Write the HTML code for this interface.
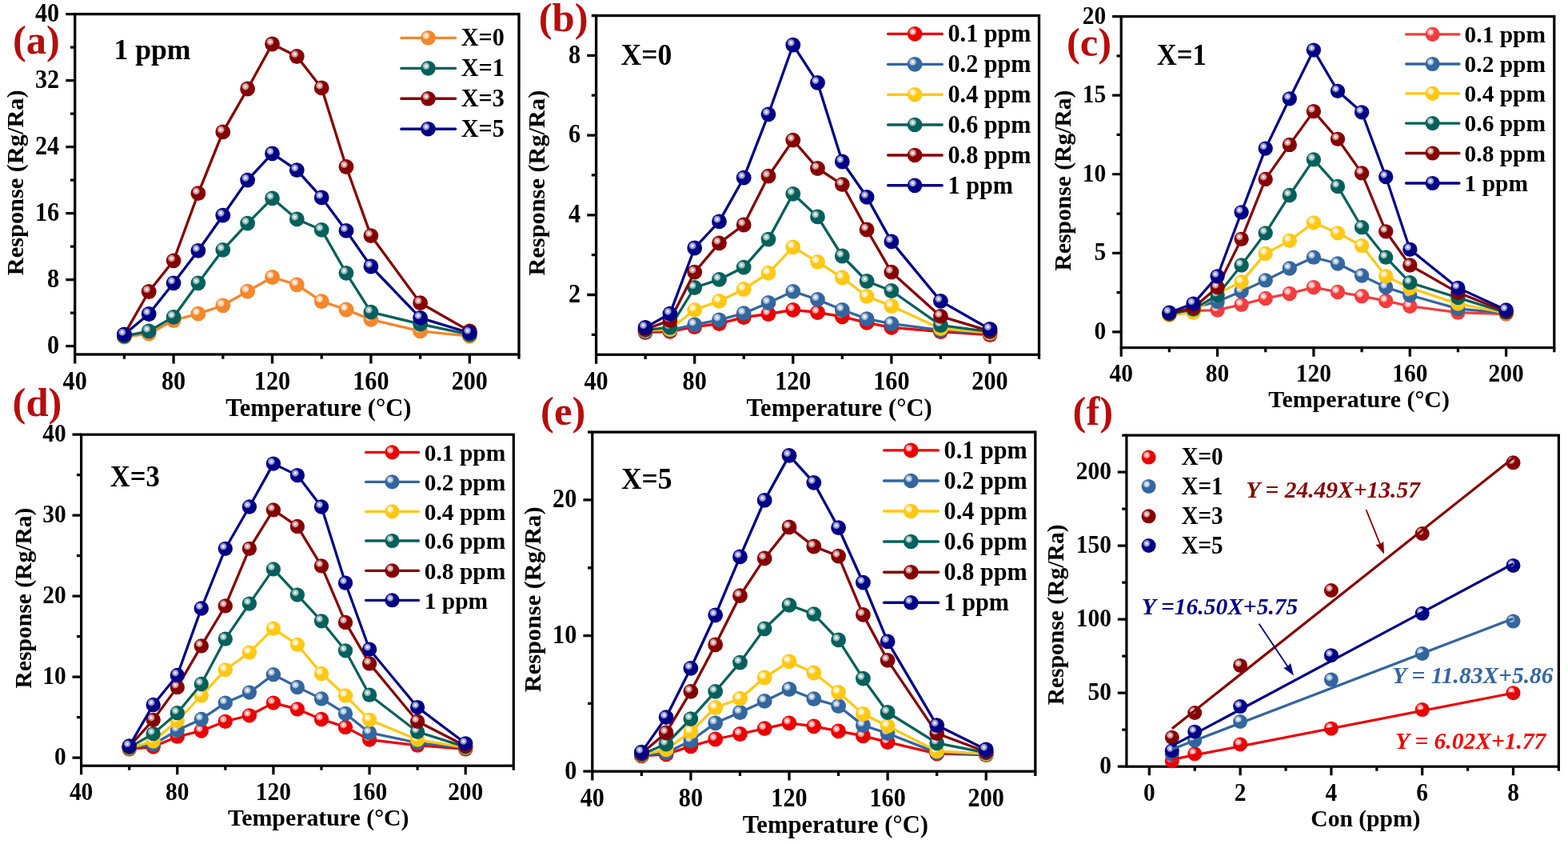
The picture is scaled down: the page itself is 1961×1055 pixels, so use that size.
<!DOCTYPE html>
<html><head><meta charset="utf-8"><title>Gas sensing response figure</title>
<style>html,body{margin:0;padding:0;background:#fff;overflow:hidden}svg{display:block}text{font-family:'Liberation Serif','Times New Roman',serif;font-weight:bold}</style>
</head><body>
<svg width="1961" height="1055" viewBox="0 0 1961 1055">
<defs><radialGradient id="gF5862B" cx="0.36" cy="0.35" r="0.255"><stop offset="0" stop-color="#fff"/><stop offset="0.18" stop-color="#fef9f4"/><stop offset="0.42" stop-color="#fcdbbf"/><stop offset="0.74" stop-color="#fbcaa2"/><stop offset="0.9" stop-color="#f8aa6b"/><stop offset="1" stop-color="#F5862B"/></radialGradient><radialGradient id="g04605C" cx="0.36" cy="0.35" r="0.255"><stop offset="0" stop-color="#fff"/><stop offset="0.18" stop-color="#f2f7f7"/><stop offset="0.42" stop-color="#b4cfce"/><stop offset="0.74" stop-color="#91b9b7"/><stop offset="0.9" stop-color="#4f908d"/><stop offset="1" stop-color="#04605C"/></radialGradient><radialGradient id="g860000" cx="0.36" cy="0.35" r="0.255"><stop offset="0" stop-color="#fff"/><stop offset="0.18" stop-color="#f9f2f2"/><stop offset="0.42" stop-color="#dbb2b2"/><stop offset="0.74" stop-color="#ca8f8f"/><stop offset="0.9" stop-color="#aa4c4c"/><stop offset="1" stop-color="#860000"/></radialGradient><radialGradient id="g000087" cx="0.36" cy="0.35" r="0.255"><stop offset="0" stop-color="#fff"/><stop offset="0.18" stop-color="#f2f2f9"/><stop offset="0.42" stop-color="#b2b2db"/><stop offset="0.74" stop-color="#8f8fca"/><stop offset="0.9" stop-color="#4c4cab"/><stop offset="1" stop-color="#000087"/></radialGradient><radialGradient id="gEA0000" cx="0.36" cy="0.35" r="0.255"><stop offset="0" stop-color="#fff"/><stop offset="0.18" stop-color="#fef2f2"/><stop offset="0.42" stop-color="#f9b2b2"/><stop offset="0.74" stop-color="#f68f8f"/><stop offset="0.9" stop-color="#f04c4c"/><stop offset="1" stop-color="#EA0000"/></radialGradient><radialGradient id="g33669F" cx="0.36" cy="0.35" r="0.255"><stop offset="0" stop-color="#fff"/><stop offset="0.18" stop-color="#f5f7fa"/><stop offset="0.42" stop-color="#c2d1e2"/><stop offset="0.74" stop-color="#a5bcd5"/><stop offset="0.9" stop-color="#7094bc"/><stop offset="1" stop-color="#33669F"/></radialGradient><radialGradient id="gFFC815" cx="0.36" cy="0.35" r="0.255"><stop offset="0" stop-color="#fff"/><stop offset="0.18" stop-color="#fffcf3"/><stop offset="0.42" stop-color="#ffeeb9"/><stop offset="0.74" stop-color="#ffe798"/><stop offset="0.9" stop-color="#ffd85b"/><stop offset="1" stop-color="#FFC815"/></radialGradient><radialGradient id="gF43C3C" cx="0.36" cy="0.35" r="0.255"><stop offset="0" stop-color="#fff"/><stop offset="0.18" stop-color="#fef5f5"/><stop offset="0.42" stop-color="#fcc4c4"/><stop offset="0.74" stop-color="#faa9a9"/><stop offset="0.9" stop-color="#f77676"/><stop offset="1" stop-color="#F43C3C"/></radialGradient></defs>
<rect width="1961" height="1055" fill="#fff"/>
<rect x="93.70" y="17.60" width="555.30" height="425.40" fill="none" stroke="#000" stroke-width="3.30"/>
<path d="M93.70 443.00V454.40M217.10 443.00V454.40M340.50 443.00V454.40M463.90 443.00V454.40M587.30 443.00V454.40M155.40 443.00V448.80M278.80 443.00V448.80M402.20 443.00V448.80M525.60 443.00V448.80M649.00 443.00V448.80M93.70 432.62H82.30M93.70 349.62H82.30M93.70 266.61H82.30M93.70 183.61H82.30M93.70 100.60H82.30M93.70 17.60H82.30M93.70 391.12H87.90M93.70 308.12H87.90M93.70 225.11H87.90M93.70 142.11H87.90M93.70 59.10H87.90" stroke="#000" stroke-width="3.30" fill="none"/>
<text transform="translate(93.70,486.50) scale(1,1.090)" font-size="30.20" text-anchor="middle">40</text>
<text transform="translate(217.10,486.50) scale(1,1.090)" font-size="30.20" text-anchor="middle">80</text>
<text transform="translate(340.50,486.50) scale(1,1.090)" font-size="30.20" text-anchor="middle">120</text>
<text transform="translate(463.90,486.50) scale(1,1.090)" font-size="30.20" text-anchor="middle">160</text>
<text transform="translate(587.30,486.50) scale(1,1.090)" font-size="30.20" text-anchor="middle">200</text>
<text transform="translate(74.20,441.97) scale(1,1.090)" font-size="30.20" text-anchor="end">0</text>
<text transform="translate(74.20,358.97) scale(1,1.090)" font-size="30.20" text-anchor="end">8</text>
<text transform="translate(74.20,275.96) scale(1,1.090)" font-size="30.20" text-anchor="end">16</text>
<text transform="translate(74.20,192.96) scale(1,1.090)" font-size="30.20" text-anchor="end">24</text>
<text transform="translate(74.20,109.95) scale(1,1.090)" font-size="30.20" text-anchor="end">32</text>
<text transform="translate(74.20,26.95) scale(1,1.090)" font-size="30.20" text-anchor="end">40</text>
<polyline points="155.4,421.2 186.2,417.1 217.1,400.5 247.9,392.2 278.8,381.8 309.6,364.1 340.5,346.5 371.3,355.8 402.2,376.6 433.0,387.0 463.9,399.4 525.6,413.9 587.3,420.2" fill="none" stroke="#F5862B" stroke-width="3.30" stroke-linejoin="round"/>
<circle cx="155.4" cy="421.2" r="9.40" fill="url(#gF5862B)"/>
<circle cx="186.2" cy="417.1" r="9.40" fill="url(#gF5862B)"/>
<circle cx="217.1" cy="400.5" r="9.40" fill="url(#gF5862B)"/>
<circle cx="247.9" cy="392.2" r="9.40" fill="url(#gF5862B)"/>
<circle cx="278.8" cy="381.8" r="9.40" fill="url(#gF5862B)"/>
<circle cx="309.6" cy="364.1" r="9.40" fill="url(#gF5862B)"/>
<circle cx="340.5" cy="346.5" r="9.40" fill="url(#gF5862B)"/>
<circle cx="371.3" cy="355.8" r="9.40" fill="url(#gF5862B)"/>
<circle cx="402.2" cy="376.6" r="9.40" fill="url(#gF5862B)"/>
<circle cx="433.0" cy="387.0" r="9.40" fill="url(#gF5862B)"/>
<circle cx="463.9" cy="399.4" r="9.40" fill="url(#gF5862B)"/>
<circle cx="525.6" cy="413.9" r="9.40" fill="url(#gF5862B)"/>
<circle cx="587.3" cy="420.2" r="9.40" fill="url(#gF5862B)"/>
<polyline points="155.4,420.2 186.2,413.9 217.1,396.3 247.9,353.8 278.8,312.3 309.6,279.1 340.5,247.9 371.3,273.9 402.2,287.4 433.0,341.3 463.9,390.1 525.6,405.1 587.3,418.1" fill="none" stroke="#04605C" stroke-width="3.30" stroke-linejoin="round"/>
<circle cx="155.4" cy="420.2" r="9.40" fill="url(#g04605C)"/>
<circle cx="186.2" cy="413.9" r="9.40" fill="url(#g04605C)"/>
<circle cx="217.1" cy="396.3" r="9.40" fill="url(#g04605C)"/>
<circle cx="247.9" cy="353.8" r="9.40" fill="url(#g04605C)"/>
<circle cx="278.8" cy="312.3" r="9.40" fill="url(#g04605C)"/>
<circle cx="309.6" cy="279.1" r="9.40" fill="url(#g04605C)"/>
<circle cx="340.5" cy="247.9" r="9.40" fill="url(#g04605C)"/>
<circle cx="371.3" cy="273.9" r="9.40" fill="url(#g04605C)"/>
<circle cx="402.2" cy="287.4" r="9.40" fill="url(#g04605C)"/>
<circle cx="433.0" cy="341.3" r="9.40" fill="url(#g04605C)"/>
<circle cx="463.9" cy="390.1" r="9.40" fill="url(#g04605C)"/>
<circle cx="525.6" cy="405.1" r="9.40" fill="url(#g04605C)"/>
<circle cx="587.3" cy="418.1" r="9.40" fill="url(#g04605C)"/>
<polyline points="155.4,418.1 186.2,364.5 217.1,325.8 247.9,241.7 278.8,164.9 309.6,111.0 340.5,55.0 371.3,70.5 402.2,109.9 433.0,208.5 463.9,294.6 525.6,378.7 587.3,413.9" fill="none" stroke="#860000" stroke-width="3.30" stroke-linejoin="round"/>
<circle cx="155.4" cy="418.1" r="9.40" fill="url(#g860000)"/>
<circle cx="186.2" cy="364.5" r="9.40" fill="url(#g860000)"/>
<circle cx="217.1" cy="325.8" r="9.40" fill="url(#g860000)"/>
<circle cx="247.9" cy="241.7" r="9.40" fill="url(#g860000)"/>
<circle cx="278.8" cy="164.9" r="9.40" fill="url(#g860000)"/>
<circle cx="309.6" cy="111.0" r="9.40" fill="url(#g860000)"/>
<circle cx="340.5" cy="55.0" r="9.40" fill="url(#g860000)"/>
<circle cx="371.3" cy="70.5" r="9.40" fill="url(#g860000)"/>
<circle cx="402.2" cy="109.9" r="9.40" fill="url(#g860000)"/>
<circle cx="433.0" cy="208.5" r="9.40" fill="url(#g860000)"/>
<circle cx="463.9" cy="294.6" r="9.40" fill="url(#g860000)"/>
<circle cx="525.6" cy="378.7" r="9.40" fill="url(#g860000)"/>
<circle cx="587.3" cy="413.9" r="9.40" fill="url(#g860000)"/>
<polyline points="155.4,418.1 186.2,392.5 217.1,353.8 247.9,313.3 278.8,269.2 309.6,225.1 340.5,191.9 371.3,212.7 402.2,246.9 433.0,288.4 463.9,333.0 525.6,397.3 587.3,416.0" fill="none" stroke="#000087" stroke-width="3.30" stroke-linejoin="round"/>
<circle cx="155.4" cy="418.1" r="9.40" fill="url(#g000087)"/>
<circle cx="186.2" cy="392.5" r="9.40" fill="url(#g000087)"/>
<circle cx="217.1" cy="353.8" r="9.40" fill="url(#g000087)"/>
<circle cx="247.9" cy="313.3" r="9.40" fill="url(#g000087)"/>
<circle cx="278.8" cy="269.2" r="9.40" fill="url(#g000087)"/>
<circle cx="309.6" cy="225.1" r="9.40" fill="url(#g000087)"/>
<circle cx="340.5" cy="191.9" r="9.40" fill="url(#g000087)"/>
<circle cx="371.3" cy="212.7" r="9.40" fill="url(#g000087)"/>
<circle cx="402.2" cy="246.9" r="9.40" fill="url(#g000087)"/>
<circle cx="433.0" cy="288.4" r="9.40" fill="url(#g000087)"/>
<circle cx="463.9" cy="333.0" r="9.40" fill="url(#g000087)"/>
<circle cx="525.6" cy="397.3" r="9.40" fill="url(#g000087)"/>
<circle cx="587.3" cy="416.0" r="9.40" fill="url(#g000087)"/>
<text transform="translate(142.40,73.80) scale(1,1.010)" font-size="35.70" text-anchor="start">1 ppm</text>
<line x1="501.9" y1="47.4" x2="569.5" y2="47.4" stroke="#F5862B" stroke-width="3.40" stroke-linecap="round"/>
<circle cx="535.5" cy="47.4" r="9.30" fill="url(#gF5862B)"/>
<text transform="translate(576.70,57.40) scale(1,1.040)" font-size="30.20" text-anchor="start">X=0</text>
<line x1="501.9" y1="85.4" x2="569.5" y2="85.4" stroke="#04605C" stroke-width="3.40" stroke-linecap="round"/>
<circle cx="535.5" cy="85.4" r="9.30" fill="url(#g04605C)"/>
<text transform="translate(576.70,95.40) scale(1,1.040)" font-size="30.20" text-anchor="start">X=1</text>
<line x1="501.9" y1="123.3" x2="569.5" y2="123.3" stroke="#860000" stroke-width="3.40" stroke-linecap="round"/>
<circle cx="535.5" cy="123.3" r="9.30" fill="url(#g860000)"/>
<text transform="translate(576.70,133.30) scale(1,1.040)" font-size="30.20" text-anchor="start">X=3</text>
<line x1="501.9" y1="161.2" x2="569.5" y2="161.2" stroke="#000087" stroke-width="3.40" stroke-linecap="round"/>
<circle cx="535.5" cy="161.2" r="9.30" fill="url(#g000087)"/>
<text transform="translate(576.70,171.20) scale(1,1.040)" font-size="30.20" text-anchor="start">X=5</text>
<text transform="translate(15.90,66.70) scale(1,0.982)" font-size="50.60" text-anchor="start" fill="#B80C0C">(a)</text>
<text transform="translate(398.30,519.70)" font-size="30.60" text-anchor="middle">Temperature (°C)</text>
<text transform="translate(28.70,228.25) rotate(-90)" font-size="30.35" text-anchor="middle">Response (Rg/Ra)</text>
<rect x="745.60" y="19.50" width="553.90" height="423.80" fill="none" stroke="#000" stroke-width="3.30"/>
<path d="M745.60 443.30V454.70M868.69 443.30V454.70M991.78 443.30V454.70M1114.87 443.30V454.70M1237.96 443.30V454.70M807.14 443.30V449.10M930.23 443.30V449.10M1053.32 443.30V449.10M1176.41 443.30V449.10M1299.50 443.30V449.10M745.60 368.51H734.20M745.60 268.79H734.20M745.60 169.08H734.20M745.60 69.36H734.20M745.60 418.37H739.80M745.60 318.65H739.80M745.60 218.94H739.80M745.60 119.22H739.80M745.60 19.50H739.80" stroke="#000" stroke-width="3.30" fill="none"/>
<text transform="translate(745.60,486.80) scale(1,1.090)" font-size="30.20" text-anchor="middle">40</text>
<text transform="translate(868.69,486.80) scale(1,1.090)" font-size="30.20" text-anchor="middle">80</text>
<text transform="translate(991.78,486.80) scale(1,1.090)" font-size="30.20" text-anchor="middle">120</text>
<text transform="translate(1114.87,486.80) scale(1,1.090)" font-size="30.20" text-anchor="middle">160</text>
<text transform="translate(1237.96,486.80) scale(1,1.090)" font-size="30.20" text-anchor="middle">200</text>
<text transform="translate(726.10,377.86) scale(1,1.090)" font-size="30.20" text-anchor="end">2</text>
<text transform="translate(726.10,278.14) scale(1,1.090)" font-size="30.20" text-anchor="end">4</text>
<text transform="translate(726.10,178.43) scale(1,1.090)" font-size="30.20" text-anchor="end">6</text>
<text transform="translate(726.10,78.71) scale(1,1.090)" font-size="30.20" text-anchor="end">8</text>
<polyline points="807.1,415.5 837.9,414.3 868.7,408.6 899.5,404.6 930.2,396.6 961.0,392.5 991.8,387.3 1022.5,390.5 1053.3,395.8 1084.1,403.4 1114.9,409.4 1176.4,414.7 1238.0,418.7" fill="none" stroke="#EA0000" stroke-width="3.30" stroke-linejoin="round"/>
<circle cx="807.1" cy="415.5" r="9.40" fill="url(#gEA0000)"/>
<circle cx="837.9" cy="414.3" r="9.40" fill="url(#gEA0000)"/>
<circle cx="868.7" cy="408.6" r="9.40" fill="url(#gEA0000)"/>
<circle cx="899.5" cy="404.6" r="9.40" fill="url(#gEA0000)"/>
<circle cx="930.2" cy="396.6" r="9.40" fill="url(#gEA0000)"/>
<circle cx="961.0" cy="392.5" r="9.40" fill="url(#gEA0000)"/>
<circle cx="991.8" cy="387.3" r="9.40" fill="url(#gEA0000)"/>
<circle cx="1022.5" cy="390.5" r="9.40" fill="url(#gEA0000)"/>
<circle cx="1053.3" cy="395.8" r="9.40" fill="url(#gEA0000)"/>
<circle cx="1084.1" cy="403.4" r="9.40" fill="url(#gEA0000)"/>
<circle cx="1114.9" cy="409.4" r="9.40" fill="url(#gEA0000)"/>
<circle cx="1176.4" cy="414.7" r="9.40" fill="url(#gEA0000)"/>
<circle cx="1238.0" cy="418.7" r="9.40" fill="url(#gEA0000)"/>
<polyline points="807.1,414.3 837.9,412.7 868.7,405.8 899.5,399.8 930.2,391.7 961.0,378.4 991.8,364.3 1022.5,374.4 1053.3,387.3 1084.1,398.6 1114.9,404.6 1176.4,412.7 1238.0,416.7" fill="none" stroke="#33669F" stroke-width="3.30" stroke-linejoin="round"/>
<circle cx="807.1" cy="414.3" r="9.40" fill="url(#g33669F)"/>
<circle cx="837.9" cy="412.7" r="9.40" fill="url(#g33669F)"/>
<circle cx="868.7" cy="405.8" r="9.40" fill="url(#g33669F)"/>
<circle cx="899.5" cy="399.8" r="9.40" fill="url(#g33669F)"/>
<circle cx="930.2" cy="391.7" r="9.40" fill="url(#g33669F)"/>
<circle cx="961.0" cy="378.4" r="9.40" fill="url(#g33669F)"/>
<circle cx="991.8" cy="364.3" r="9.40" fill="url(#g33669F)"/>
<circle cx="1022.5" cy="374.4" r="9.40" fill="url(#g33669F)"/>
<circle cx="1053.3" cy="387.3" r="9.40" fill="url(#g33669F)"/>
<circle cx="1084.1" cy="398.6" r="9.40" fill="url(#g33669F)"/>
<circle cx="1114.9" cy="404.6" r="9.40" fill="url(#g33669F)"/>
<circle cx="1176.4" cy="412.7" r="9.40" fill="url(#g33669F)"/>
<circle cx="1238.0" cy="416.7" r="9.40" fill="url(#g33669F)"/>
<polyline points="807.1,413.1 837.9,411.5 868.7,387.3 899.5,376.4 930.2,361.5 961.0,341.4 991.8,308.8 1022.5,327.3 1053.3,347.0 1084.1,370.4 1114.9,382.5 1176.4,410.7 1238.0,415.9" fill="none" stroke="#FFC815" stroke-width="3.30" stroke-linejoin="round"/>
<circle cx="807.1" cy="413.1" r="9.40" fill="url(#gFFC815)"/>
<circle cx="837.9" cy="411.5" r="9.40" fill="url(#gFFC815)"/>
<circle cx="868.7" cy="387.3" r="9.40" fill="url(#gFFC815)"/>
<circle cx="899.5" cy="376.4" r="9.40" fill="url(#gFFC815)"/>
<circle cx="930.2" cy="361.5" r="9.40" fill="url(#gFFC815)"/>
<circle cx="961.0" cy="341.4" r="9.40" fill="url(#gFFC815)"/>
<circle cx="991.8" cy="308.8" r="9.40" fill="url(#gFFC815)"/>
<circle cx="1022.5" cy="327.3" r="9.40" fill="url(#gFFC815)"/>
<circle cx="1053.3" cy="347.0" r="9.40" fill="url(#gFFC815)"/>
<circle cx="1084.1" cy="370.4" r="9.40" fill="url(#gFFC815)"/>
<circle cx="1114.9" cy="382.5" r="9.40" fill="url(#gFFC815)"/>
<circle cx="1176.4" cy="410.7" r="9.40" fill="url(#gFFC815)"/>
<circle cx="1238.0" cy="415.9" r="9.40" fill="url(#gFFC815)"/>
<polyline points="807.1,412.3 837.9,409.4 868.7,359.5 899.5,349.4 930.2,334.1 961.0,299.1 991.8,242.3 1022.5,270.9 1053.3,320.0 1084.1,351.5 1114.9,363.5 1176.4,406.6 1238.0,414.7" fill="none" stroke="#04605C" stroke-width="3.30" stroke-linejoin="round"/>
<circle cx="807.1" cy="412.3" r="9.40" fill="url(#g04605C)"/>
<circle cx="837.9" cy="409.4" r="9.40" fill="url(#g04605C)"/>
<circle cx="868.7" cy="359.5" r="9.40" fill="url(#g04605C)"/>
<circle cx="899.5" cy="349.4" r="9.40" fill="url(#g04605C)"/>
<circle cx="930.2" cy="334.1" r="9.40" fill="url(#g04605C)"/>
<circle cx="961.0" cy="299.1" r="9.40" fill="url(#g04605C)"/>
<circle cx="991.8" cy="242.3" r="9.40" fill="url(#g04605C)"/>
<circle cx="1022.5" cy="270.9" r="9.40" fill="url(#g04605C)"/>
<circle cx="1053.3" cy="320.0" r="9.40" fill="url(#g04605C)"/>
<circle cx="1084.1" cy="351.5" r="9.40" fill="url(#g04605C)"/>
<circle cx="1114.9" cy="363.5" r="9.40" fill="url(#g04605C)"/>
<circle cx="1176.4" cy="406.6" r="9.40" fill="url(#g04605C)"/>
<circle cx="1238.0" cy="414.7" r="9.40" fill="url(#g04605C)"/>
<polyline points="807.1,411.5 837.9,400.6 868.7,340.2 899.5,303.9 930.2,281.0 961.0,220.2 991.8,175.1 1022.5,210.5 1053.3,230.6 1084.1,287.0 1114.9,340.2 1176.4,395.4 1238.0,413.9" fill="none" stroke="#860000" stroke-width="3.30" stroke-linejoin="round"/>
<circle cx="807.1" cy="411.5" r="9.40" fill="url(#g860000)"/>
<circle cx="837.9" cy="400.6" r="9.40" fill="url(#g860000)"/>
<circle cx="868.7" cy="340.2" r="9.40" fill="url(#g860000)"/>
<circle cx="899.5" cy="303.9" r="9.40" fill="url(#g860000)"/>
<circle cx="930.2" cy="281.0" r="9.40" fill="url(#g860000)"/>
<circle cx="961.0" cy="220.2" r="9.40" fill="url(#g860000)"/>
<circle cx="991.8" cy="175.1" r="9.40" fill="url(#g860000)"/>
<circle cx="1022.5" cy="210.5" r="9.40" fill="url(#g860000)"/>
<circle cx="1053.3" cy="230.6" r="9.40" fill="url(#g860000)"/>
<circle cx="1084.1" cy="287.0" r="9.40" fill="url(#g860000)"/>
<circle cx="1114.9" cy="340.2" r="9.40" fill="url(#g860000)"/>
<circle cx="1176.4" cy="395.4" r="9.40" fill="url(#g860000)"/>
<circle cx="1238.0" cy="413.9" r="9.40" fill="url(#g860000)"/>
<polyline points="807.1,409.4 837.9,392.1 868.7,310.0 899.5,276.9 930.2,222.2 961.0,142.8 991.8,56.2 1022.5,103.4 1053.3,202.0 1084.1,246.3 1114.9,301.9 1176.4,376.4 1238.0,411.5" fill="none" stroke="#000087" stroke-width="3.30" stroke-linejoin="round"/>
<circle cx="807.1" cy="409.4" r="9.40" fill="url(#g000087)"/>
<circle cx="837.9" cy="392.1" r="9.40" fill="url(#g000087)"/>
<circle cx="868.7" cy="310.0" r="9.40" fill="url(#g000087)"/>
<circle cx="899.5" cy="276.9" r="9.40" fill="url(#g000087)"/>
<circle cx="930.2" cy="222.2" r="9.40" fill="url(#g000087)"/>
<circle cx="961.0" cy="142.8" r="9.40" fill="url(#g000087)"/>
<circle cx="991.8" cy="56.2" r="9.40" fill="url(#g000087)"/>
<circle cx="1022.5" cy="103.4" r="9.40" fill="url(#g000087)"/>
<circle cx="1053.3" cy="202.0" r="9.40" fill="url(#g000087)"/>
<circle cx="1084.1" cy="246.3" r="9.40" fill="url(#g000087)"/>
<circle cx="1114.9" cy="301.9" r="9.40" fill="url(#g000087)"/>
<circle cx="1176.4" cy="376.4" r="9.40" fill="url(#g000087)"/>
<circle cx="1238.0" cy="411.5" r="9.40" fill="url(#g000087)"/>
<line x1="1110.6" y1="42.4" x2="1178.2" y2="42.4" stroke="#EA0000" stroke-width="3.40" stroke-linecap="round"/>
<circle cx="1144.1" cy="42.4" r="9.30" fill="url(#gEA0000)"/>
<text transform="translate(1185.50,52.40) scale(1,1.040)" font-size="30.20" text-anchor="start">0.1 ppm</text>
<line x1="1110.6" y1="80.4" x2="1178.2" y2="80.4" stroke="#33669F" stroke-width="3.40" stroke-linecap="round"/>
<circle cx="1144.1" cy="80.4" r="9.30" fill="url(#g33669F)"/>
<text transform="translate(1185.50,90.40) scale(1,1.040)" font-size="30.20" text-anchor="start">0.2 ppm</text>
<line x1="1110.6" y1="118.2" x2="1178.2" y2="118.2" stroke="#FFC815" stroke-width="3.40" stroke-linecap="round"/>
<circle cx="1144.1" cy="118.2" r="9.30" fill="url(#gFFC815)"/>
<text transform="translate(1185.50,128.20) scale(1,1.040)" font-size="30.20" text-anchor="start">0.4 ppm</text>
<line x1="1110.6" y1="156.0" x2="1178.2" y2="156.0" stroke="#04605C" stroke-width="3.40" stroke-linecap="round"/>
<circle cx="1144.1" cy="156.0" r="9.30" fill="url(#g04605C)"/>
<text transform="translate(1185.50,166.00) scale(1,1.040)" font-size="30.20" text-anchor="start">0.6 ppm</text>
<line x1="1110.6" y1="194.0" x2="1178.2" y2="194.0" stroke="#860000" stroke-width="3.40" stroke-linecap="round"/>
<circle cx="1144.1" cy="194.0" r="9.30" fill="url(#g860000)"/>
<text transform="translate(1185.50,204.00) scale(1,1.040)" font-size="30.20" text-anchor="start">0.8 ppm</text>
<line x1="1110.6" y1="231.8" x2="1178.2" y2="231.8" stroke="#000087" stroke-width="3.40" stroke-linecap="round"/>
<circle cx="1144.1" cy="231.8" r="9.30" fill="url(#g000087)"/>
<text transform="translate(1185.50,241.80) scale(1,1.040)" font-size="30.20" text-anchor="start">1 ppm</text>
<text transform="translate(776.50,80.70) scale(1,1.090)" font-size="35.60" text-anchor="start">X=0</text>
<text transform="translate(673.70,38.70) scale(1,0.982)" font-size="50.60" text-anchor="start" fill="#B80C0C">(b)</text>
<text transform="translate(1049.60,519.80)" font-size="30.60" text-anchor="middle">Temperature (°C)</text>
<text transform="translate(680.70,228.65) rotate(-90)" font-size="30.35" text-anchor="middle">Response (Rg/Ra)</text>
<rect x="1402.20" y="20.60" width="541.60" height="414.00" fill="none" stroke="#000" stroke-width="3.22"/>
<path d="M1402.20 434.60V445.72M1522.56 434.60V445.72M1642.91 434.60V445.72M1763.27 434.60V445.72M1883.62 434.60V445.72M1462.38 434.60V440.25M1582.73 434.60V440.25M1703.09 434.60V440.25M1823.44 434.60V440.25M1943.80 434.60V440.25M1402.20 414.89H1391.09M1402.20 316.31H1391.09M1402.20 217.74H1391.09M1402.20 119.17H1391.09M1402.20 20.60H1391.09M1402.20 365.60H1396.55M1402.20 267.03H1396.55M1402.20 168.46H1396.55M1402.20 69.89H1396.55" stroke="#000" stroke-width="3.22" fill="none"/>
<text transform="translate(1402.20,477.01) scale(1,1.090)" font-size="29.45" text-anchor="middle">40</text>
<text transform="translate(1522.56,477.01) scale(1,1.090)" font-size="29.45" text-anchor="middle">80</text>
<text transform="translate(1642.91,477.01) scale(1,1.090)" font-size="29.45" text-anchor="middle">120</text>
<text transform="translate(1763.27,477.01) scale(1,1.090)" font-size="29.45" text-anchor="middle">160</text>
<text transform="translate(1883.62,477.01) scale(1,1.090)" font-size="29.45" text-anchor="middle">200</text>
<text transform="translate(1383.21,423.98) scale(1,1.090)" font-size="29.45" text-anchor="end">0</text>
<text transform="translate(1383.21,325.41) scale(1,1.090)" font-size="29.45" text-anchor="end">5</text>
<text transform="translate(1383.21,226.83) scale(1,1.090)" font-size="29.45" text-anchor="end">10</text>
<text transform="translate(1383.21,128.26) scale(1,1.090)" font-size="29.45" text-anchor="end">15</text>
<text transform="translate(1383.21,29.69) scale(1,1.090)" font-size="29.45" text-anchor="end">20</text>
<polyline points="1462.4,393.8 1492.5,388.7 1522.6,387.5 1552.6,380.8 1582.7,372.9 1612.8,367.0 1642.9,359.1 1673.0,365.0 1703.1,370.2 1733.2,376.1 1763.3,382.8 1823.4,390.7 1883.6,392.6" fill="none" stroke="#F43C3C" stroke-width="3.22" stroke-linejoin="round"/>
<circle cx="1462.4" cy="393.8" r="9.17" fill="url(#gF43C3C)"/>
<circle cx="1492.5" cy="388.7" r="9.17" fill="url(#gF43C3C)"/>
<circle cx="1522.6" cy="387.5" r="9.17" fill="url(#gF43C3C)"/>
<circle cx="1552.6" cy="380.8" r="9.17" fill="url(#gF43C3C)"/>
<circle cx="1582.7" cy="372.9" r="9.17" fill="url(#gF43C3C)"/>
<circle cx="1612.8" cy="367.0" r="9.17" fill="url(#gF43C3C)"/>
<circle cx="1642.9" cy="359.1" r="9.17" fill="url(#gF43C3C)"/>
<circle cx="1673.0" cy="365.0" r="9.17" fill="url(#gF43C3C)"/>
<circle cx="1703.1" cy="370.2" r="9.17" fill="url(#gF43C3C)"/>
<circle cx="1733.2" cy="376.1" r="9.17" fill="url(#gF43C3C)"/>
<circle cx="1763.3" cy="382.8" r="9.17" fill="url(#gF43C3C)"/>
<circle cx="1823.4" cy="390.7" r="9.17" fill="url(#gF43C3C)"/>
<circle cx="1883.6" cy="392.6" r="9.17" fill="url(#gF43C3C)"/>
<polyline points="1462.4,392.6 1492.5,384.7 1522.6,376.9 1552.6,364.2 1582.7,350.4 1612.8,335.5 1642.9,321.7 1673.0,329.5 1703.1,344.5 1733.2,359.1 1763.3,369.0 1823.4,385.9 1883.6,391.5" fill="none" stroke="#33669F" stroke-width="3.22" stroke-linejoin="round"/>
<circle cx="1462.4" cy="392.6" r="9.17" fill="url(#g33669F)"/>
<circle cx="1492.5" cy="384.7" r="9.17" fill="url(#g33669F)"/>
<circle cx="1522.6" cy="376.9" r="9.17" fill="url(#g33669F)"/>
<circle cx="1552.6" cy="364.2" r="9.17" fill="url(#g33669F)"/>
<circle cx="1582.7" cy="350.4" r="9.17" fill="url(#g33669F)"/>
<circle cx="1612.8" cy="335.5" r="9.17" fill="url(#g33669F)"/>
<circle cx="1642.9" cy="321.7" r="9.17" fill="url(#g33669F)"/>
<circle cx="1673.0" cy="329.5" r="9.17" fill="url(#g33669F)"/>
<circle cx="1703.1" cy="344.5" r="9.17" fill="url(#g33669F)"/>
<circle cx="1733.2" cy="359.1" r="9.17" fill="url(#g33669F)"/>
<circle cx="1763.3" cy="369.0" r="9.17" fill="url(#g33669F)"/>
<circle cx="1823.4" cy="385.9" r="9.17" fill="url(#g33669F)"/>
<circle cx="1883.6" cy="391.5" r="9.17" fill="url(#g33669F)"/>
<polyline points="1462.4,393.8 1492.5,390.7 1522.6,367.0 1552.6,352.4 1582.7,316.9 1612.8,300.8 1642.9,278.3 1673.0,291.3 1703.1,307.1 1733.2,345.3 1763.3,359.9 1823.4,379.6 1883.6,391.5" fill="none" stroke="#FFC815" stroke-width="3.22" stroke-linejoin="round"/>
<circle cx="1462.4" cy="393.8" r="9.17" fill="url(#gFFC815)"/>
<circle cx="1492.5" cy="390.7" r="9.17" fill="url(#gFFC815)"/>
<circle cx="1522.6" cy="367.0" r="9.17" fill="url(#gFFC815)"/>
<circle cx="1552.6" cy="352.4" r="9.17" fill="url(#gFFC815)"/>
<circle cx="1582.7" cy="316.9" r="9.17" fill="url(#gFFC815)"/>
<circle cx="1612.8" cy="300.8" r="9.17" fill="url(#gFFC815)"/>
<circle cx="1642.9" cy="278.3" r="9.17" fill="url(#gFFC815)"/>
<circle cx="1673.0" cy="291.3" r="9.17" fill="url(#gFFC815)"/>
<circle cx="1703.1" cy="307.1" r="9.17" fill="url(#gFFC815)"/>
<circle cx="1733.2" cy="345.3" r="9.17" fill="url(#gFFC815)"/>
<circle cx="1763.3" cy="359.9" r="9.17" fill="url(#gFFC815)"/>
<circle cx="1823.4" cy="379.6" r="9.17" fill="url(#gFFC815)"/>
<circle cx="1883.6" cy="391.5" r="9.17" fill="url(#gFFC815)"/>
<polyline points="1462.4,392.6 1492.5,386.7 1522.6,369.0 1552.6,331.5 1582.7,291.3 1612.8,244.0 1642.9,199.4 1673.0,232.9 1703.1,284.2 1733.2,321.7 1763.3,353.2 1823.4,372.1 1883.6,390.7" fill="none" stroke="#04605C" stroke-width="3.22" stroke-linejoin="round"/>
<circle cx="1462.4" cy="392.6" r="9.17" fill="url(#g04605C)"/>
<circle cx="1492.5" cy="386.7" r="9.17" fill="url(#g04605C)"/>
<circle cx="1522.6" cy="369.0" r="9.17" fill="url(#g04605C)"/>
<circle cx="1552.6" cy="331.5" r="9.17" fill="url(#g04605C)"/>
<circle cx="1582.7" cy="291.3" r="9.17" fill="url(#g04605C)"/>
<circle cx="1612.8" cy="244.0" r="9.17" fill="url(#g04605C)"/>
<circle cx="1642.9" cy="199.4" r="9.17" fill="url(#g04605C)"/>
<circle cx="1673.0" cy="232.9" r="9.17" fill="url(#g04605C)"/>
<circle cx="1703.1" cy="284.2" r="9.17" fill="url(#g04605C)"/>
<circle cx="1733.2" cy="321.7" r="9.17" fill="url(#g04605C)"/>
<circle cx="1763.3" cy="353.2" r="9.17" fill="url(#g04605C)"/>
<circle cx="1823.4" cy="372.1" r="9.17" fill="url(#g04605C)"/>
<circle cx="1883.6" cy="390.7" r="9.17" fill="url(#g04605C)"/>
<polyline points="1462.4,391.8 1492.5,384.7 1522.6,359.1 1552.6,298.8 1582.7,223.9 1612.8,180.9 1642.9,139.1 1673.0,173.8 1703.1,216.4 1733.2,289.3 1763.3,331.5 1823.4,365.8 1883.6,389.5" fill="none" stroke="#860000" stroke-width="3.22" stroke-linejoin="round"/>
<circle cx="1462.4" cy="391.8" r="9.17" fill="url(#g860000)"/>
<circle cx="1492.5" cy="384.7" r="9.17" fill="url(#g860000)"/>
<circle cx="1522.6" cy="359.1" r="9.17" fill="url(#g860000)"/>
<circle cx="1552.6" cy="298.8" r="9.17" fill="url(#g860000)"/>
<circle cx="1582.7" cy="223.9" r="9.17" fill="url(#g860000)"/>
<circle cx="1612.8" cy="180.9" r="9.17" fill="url(#g860000)"/>
<circle cx="1642.9" cy="139.1" r="9.17" fill="url(#g860000)"/>
<circle cx="1673.0" cy="173.8" r="9.17" fill="url(#g860000)"/>
<circle cx="1703.1" cy="216.4" r="9.17" fill="url(#g860000)"/>
<circle cx="1733.2" cy="289.3" r="9.17" fill="url(#g860000)"/>
<circle cx="1763.3" cy="331.5" r="9.17" fill="url(#g860000)"/>
<circle cx="1823.4" cy="365.8" r="9.17" fill="url(#g860000)"/>
<circle cx="1883.6" cy="389.5" r="9.17" fill="url(#g860000)"/>
<polyline points="1462.4,390.7 1492.5,379.6 1522.6,345.3 1552.6,265.3 1582.7,185.6 1612.8,123.3 1642.9,62.6 1673.0,113.8 1703.1,140.3 1733.2,221.1 1763.3,311.8 1823.4,359.9 1883.6,387.5" fill="none" stroke="#000087" stroke-width="3.22" stroke-linejoin="round"/>
<circle cx="1462.4" cy="390.7" r="9.17" fill="url(#g000087)"/>
<circle cx="1492.5" cy="379.6" r="9.17" fill="url(#g000087)"/>
<circle cx="1522.6" cy="345.3" r="9.17" fill="url(#g000087)"/>
<circle cx="1552.6" cy="265.3" r="9.17" fill="url(#g000087)"/>
<circle cx="1582.7" cy="185.6" r="9.17" fill="url(#g000087)"/>
<circle cx="1612.8" cy="123.3" r="9.17" fill="url(#g000087)"/>
<circle cx="1642.9" cy="62.6" r="9.17" fill="url(#g000087)"/>
<circle cx="1673.0" cy="113.8" r="9.17" fill="url(#g000087)"/>
<circle cx="1703.1" cy="140.3" r="9.17" fill="url(#g000087)"/>
<circle cx="1733.2" cy="221.1" r="9.17" fill="url(#g000087)"/>
<circle cx="1763.3" cy="311.8" r="9.17" fill="url(#g000087)"/>
<circle cx="1823.4" cy="359.9" r="9.17" fill="url(#g000087)"/>
<circle cx="1883.6" cy="387.5" r="9.17" fill="url(#g000087)"/>
<line x1="1758.6" y1="42.9" x2="1824.9" y2="42.9" stroke="#F43C3C" stroke-width="3.31" stroke-linecap="round"/>
<circle cx="1791.6" cy="42.9" r="9.07" fill="url(#gF43C3C)"/>
<text transform="translate(1831.60,53.10) scale(1,0.995)" font-size="29.45" text-anchor="start">0.1 ppm</text>
<line x1="1758.6" y1="80.0" x2="1824.9" y2="80.0" stroke="#33669F" stroke-width="3.31" stroke-linecap="round"/>
<circle cx="1791.6" cy="80.0" r="9.07" fill="url(#g33669F)"/>
<text transform="translate(1831.60,90.20) scale(1,0.995)" font-size="29.45" text-anchor="start">0.2 ppm</text>
<line x1="1758.6" y1="116.9" x2="1824.9" y2="116.9" stroke="#FFC815" stroke-width="3.31" stroke-linecap="round"/>
<circle cx="1791.6" cy="116.9" r="9.07" fill="url(#gFFC815)"/>
<text transform="translate(1831.60,127.10) scale(1,0.995)" font-size="29.45" text-anchor="start">0.4 ppm</text>
<line x1="1758.6" y1="154.1" x2="1824.9" y2="154.1" stroke="#04605C" stroke-width="3.31" stroke-linecap="round"/>
<circle cx="1791.6" cy="154.1" r="9.07" fill="url(#g04605C)"/>
<text transform="translate(1831.60,164.30) scale(1,0.995)" font-size="29.45" text-anchor="start">0.6 ppm</text>
<line x1="1758.6" y1="191.5" x2="1824.9" y2="191.5" stroke="#860000" stroke-width="3.31" stroke-linecap="round"/>
<circle cx="1791.6" cy="191.5" r="9.07" fill="url(#g860000)"/>
<text transform="translate(1831.60,201.70) scale(1,0.995)" font-size="29.45" text-anchor="start">0.8 ppm</text>
<line x1="1758.6" y1="229.0" x2="1824.9" y2="229.0" stroke="#000087" stroke-width="3.31" stroke-linecap="round"/>
<circle cx="1791.6" cy="229.0" r="9.07" fill="url(#g000087)"/>
<text transform="translate(1831.60,239.20) scale(1,0.995)" font-size="29.45" text-anchor="start">1 ppm</text>
<text transform="translate(1446.73,81.28) scale(1,1.090)" font-size="34.71" text-anchor="start">X=1</text>
<text transform="translate(1333.90,70.10) scale(1,0.982)" font-size="50.60" text-anchor="start" fill="#B80C0C">(c)</text>
<text transform="translate(1699.60,509.40)" font-size="29.84" text-anchor="middle">Temperature (°C)</text>
<text transform="translate(1338.70,225.50) rotate(-90)" font-size="29.59" text-anchor="middle">Response (Rg/Ra)</text>
<rect x="101.60" y="543.20" width="540.70" height="414.00" fill="none" stroke="#000" stroke-width="3.22"/>
<path d="M101.60 957.20V968.32M221.76 957.20V968.32M341.91 957.20V968.32M462.07 957.20V968.32M582.22 957.20V968.32M161.68 957.20V962.86M281.83 957.20V962.86M401.99 957.20V962.86M522.14 957.20V962.86M642.30 957.20V962.86M101.60 947.10H90.48M101.60 846.13H90.48M101.60 745.15H90.48M101.60 644.18H90.48M101.60 543.20H90.48M101.60 896.61H95.94M101.60 795.64H95.94M101.60 694.66H95.94M101.60 593.69H95.94" stroke="#000" stroke-width="3.22" fill="none"/>
<text transform="translate(101.60,999.61) scale(1,1.090)" font-size="29.45" text-anchor="middle">40</text>
<text transform="translate(221.76,999.61) scale(1,1.090)" font-size="29.45" text-anchor="middle">80</text>
<text transform="translate(341.91,999.61) scale(1,1.090)" font-size="29.45" text-anchor="middle">120</text>
<text transform="translate(462.07,999.61) scale(1,1.090)" font-size="29.45" text-anchor="middle">160</text>
<text transform="translate(582.22,999.61) scale(1,1.090)" font-size="29.45" text-anchor="middle">200</text>
<text transform="translate(82.61,956.19) scale(1,1.090)" font-size="29.45" text-anchor="end">0</text>
<text transform="translate(82.61,855.22) scale(1,1.090)" font-size="29.45" text-anchor="end">10</text>
<text transform="translate(82.61,754.24) scale(1,1.090)" font-size="29.45" text-anchor="end">20</text>
<text transform="translate(82.61,653.27) scale(1,1.090)" font-size="29.45" text-anchor="end">30</text>
<text transform="translate(82.61,552.29) scale(1,1.090)" font-size="29.45" text-anchor="end">40</text>
<polyline points="161.7,936.4 191.7,933.6 221.8,920.7 251.8,913.6 281.8,901.8 311.9,894.3 341.9,878.6 371.9,886.4 402.0,899.0 432.0,908.9 462.1,924.6 522.1,931.7 582.2,936.4" fill="none" stroke="#EA0000" stroke-width="3.22" stroke-linejoin="round"/>
<circle cx="161.7" cy="936.4" r="9.17" fill="url(#gEA0000)"/>
<circle cx="191.7" cy="933.6" r="9.17" fill="url(#gEA0000)"/>
<circle cx="221.8" cy="920.7" r="9.17" fill="url(#gEA0000)"/>
<circle cx="251.8" cy="913.6" r="9.17" fill="url(#gEA0000)"/>
<circle cx="281.8" cy="901.8" r="9.17" fill="url(#gEA0000)"/>
<circle cx="311.9" cy="894.3" r="9.17" fill="url(#gEA0000)"/>
<circle cx="341.9" cy="878.6" r="9.17" fill="url(#gEA0000)"/>
<circle cx="371.9" cy="886.4" r="9.17" fill="url(#gEA0000)"/>
<circle cx="402.0" cy="899.0" r="9.17" fill="url(#gEA0000)"/>
<circle cx="432.0" cy="908.9" r="9.17" fill="url(#gEA0000)"/>
<circle cx="462.1" cy="924.6" r="9.17" fill="url(#gEA0000)"/>
<circle cx="522.1" cy="931.7" r="9.17" fill="url(#gEA0000)"/>
<circle cx="582.2" cy="936.4" r="9.17" fill="url(#gEA0000)"/>
<polyline points="161.7,935.6 191.7,930.5 221.8,912.8 251.8,899.0 281.8,878.6 311.9,865.6 341.9,843.2 371.9,858.9 402.0,873.4 432.0,891.9 462.1,915.9 522.1,928.5 582.2,935.2" fill="none" stroke="#33669F" stroke-width="3.22" stroke-linejoin="round"/>
<circle cx="161.7" cy="935.6" r="9.17" fill="url(#g33669F)"/>
<circle cx="191.7" cy="930.5" r="9.17" fill="url(#g33669F)"/>
<circle cx="221.8" cy="912.8" r="9.17" fill="url(#g33669F)"/>
<circle cx="251.8" cy="899.0" r="9.17" fill="url(#g33669F)"/>
<circle cx="281.8" cy="878.6" r="9.17" fill="url(#g33669F)"/>
<circle cx="311.9" cy="865.6" r="9.17" fill="url(#g33669F)"/>
<circle cx="341.9" cy="843.2" r="9.17" fill="url(#g33669F)"/>
<circle cx="371.9" cy="858.9" r="9.17" fill="url(#g33669F)"/>
<circle cx="402.0" cy="873.4" r="9.17" fill="url(#g33669F)"/>
<circle cx="432.0" cy="891.9" r="9.17" fill="url(#g33669F)"/>
<circle cx="462.1" cy="915.9" r="9.17" fill="url(#g33669F)"/>
<circle cx="522.1" cy="928.5" r="9.17" fill="url(#g33669F)"/>
<circle cx="582.2" cy="935.2" r="9.17" fill="url(#g33669F)"/>
<polyline points="161.7,935.2 191.7,926.6 221.8,901.0 251.8,869.5 281.8,837.3 311.9,815.6 341.9,785.7 371.9,805.8 402.0,842.0 432.0,869.5 462.1,899.8 522.1,924.6 582.2,934.4" fill="none" stroke="#FFC815" stroke-width="3.22" stroke-linejoin="round"/>
<circle cx="161.7" cy="935.2" r="9.17" fill="url(#gFFC815)"/>
<circle cx="191.7" cy="926.6" r="9.17" fill="url(#gFFC815)"/>
<circle cx="221.8" cy="901.0" r="9.17" fill="url(#gFFC815)"/>
<circle cx="251.8" cy="869.5" r="9.17" fill="url(#gFFC815)"/>
<circle cx="281.8" cy="837.3" r="9.17" fill="url(#gFFC815)"/>
<circle cx="311.9" cy="815.6" r="9.17" fill="url(#gFFC815)"/>
<circle cx="341.9" cy="785.7" r="9.17" fill="url(#gFFC815)"/>
<circle cx="371.9" cy="805.8" r="9.17" fill="url(#gFFC815)"/>
<circle cx="402.0" cy="842.0" r="9.17" fill="url(#gFFC815)"/>
<circle cx="432.0" cy="869.5" r="9.17" fill="url(#gFFC815)"/>
<circle cx="462.1" cy="899.8" r="9.17" fill="url(#gFFC815)"/>
<circle cx="522.1" cy="924.6" r="9.17" fill="url(#gFFC815)"/>
<circle cx="582.2" cy="934.4" r="9.17" fill="url(#gFFC815)"/>
<polyline points="161.7,934.4 191.7,917.1 221.8,891.2 251.8,855.0 281.8,798.7 311.9,754.6 341.9,711.4 371.9,743.6 402.0,776.3 432.0,813.3 462.1,868.7 522.1,914.8 582.2,933.6" fill="none" stroke="#04605C" stroke-width="3.22" stroke-linejoin="round"/>
<circle cx="161.7" cy="934.4" r="9.17" fill="url(#g04605C)"/>
<circle cx="191.7" cy="917.1" r="9.17" fill="url(#g04605C)"/>
<circle cx="221.8" cy="891.2" r="9.17" fill="url(#g04605C)"/>
<circle cx="251.8" cy="855.0" r="9.17" fill="url(#g04605C)"/>
<circle cx="281.8" cy="798.7" r="9.17" fill="url(#g04605C)"/>
<circle cx="311.9" cy="754.6" r="9.17" fill="url(#g04605C)"/>
<circle cx="341.9" cy="711.4" r="9.17" fill="url(#g04605C)"/>
<circle cx="371.9" cy="743.6" r="9.17" fill="url(#g04605C)"/>
<circle cx="402.0" cy="776.3" r="9.17" fill="url(#g04605C)"/>
<circle cx="432.0" cy="813.3" r="9.17" fill="url(#g04605C)"/>
<circle cx="462.1" cy="868.7" r="9.17" fill="url(#g04605C)"/>
<circle cx="522.1" cy="914.8" r="9.17" fill="url(#g04605C)"/>
<circle cx="582.2" cy="933.6" r="9.17" fill="url(#g04605C)"/>
<polyline points="161.7,933.2 191.7,899.8 221.8,858.9 251.8,807.4 281.8,757.4 311.9,685.8 341.9,637.4 371.9,657.9 402.0,707.4 432.0,777.9 462.1,829.4 522.1,901.8 582.2,932.5" fill="none" stroke="#860000" stroke-width="3.22" stroke-linejoin="round"/>
<circle cx="161.7" cy="933.2" r="9.17" fill="url(#g860000)"/>
<circle cx="191.7" cy="899.8" r="9.17" fill="url(#g860000)"/>
<circle cx="221.8" cy="858.9" r="9.17" fill="url(#g860000)"/>
<circle cx="251.8" cy="807.4" r="9.17" fill="url(#g860000)"/>
<circle cx="281.8" cy="757.4" r="9.17" fill="url(#g860000)"/>
<circle cx="311.9" cy="685.8" r="9.17" fill="url(#g860000)"/>
<circle cx="341.9" cy="637.4" r="9.17" fill="url(#g860000)"/>
<circle cx="371.9" cy="657.9" r="9.17" fill="url(#g860000)"/>
<circle cx="402.0" cy="707.4" r="9.17" fill="url(#g860000)"/>
<circle cx="432.0" cy="777.9" r="9.17" fill="url(#g860000)"/>
<circle cx="462.1" cy="829.4" r="9.17" fill="url(#g860000)"/>
<circle cx="522.1" cy="901.8" r="9.17" fill="url(#g860000)"/>
<circle cx="582.2" cy="932.5" r="9.17" fill="url(#g860000)"/>
<polyline points="161.7,932.5 191.7,880.9 221.8,843.9 251.8,760.5 281.8,685.8 311.9,633.5 341.9,579.6 371.9,594.1 402.0,633.5 432.0,728.7 462.1,811.7 522.1,884.1 582.2,929.3" fill="none" stroke="#000087" stroke-width="3.22" stroke-linejoin="round"/>
<circle cx="161.7" cy="932.5" r="9.17" fill="url(#g000087)"/>
<circle cx="191.7" cy="880.9" r="9.17" fill="url(#g000087)"/>
<circle cx="221.8" cy="843.9" r="9.17" fill="url(#g000087)"/>
<circle cx="251.8" cy="760.5" r="9.17" fill="url(#g000087)"/>
<circle cx="281.8" cy="685.8" r="9.17" fill="url(#g000087)"/>
<circle cx="311.9" cy="633.5" r="9.17" fill="url(#g000087)"/>
<circle cx="341.9" cy="579.6" r="9.17" fill="url(#g000087)"/>
<circle cx="371.9" cy="594.1" r="9.17" fill="url(#g000087)"/>
<circle cx="402.0" cy="633.5" r="9.17" fill="url(#g000087)"/>
<circle cx="432.0" cy="728.7" r="9.17" fill="url(#g000087)"/>
<circle cx="462.1" cy="811.7" r="9.17" fill="url(#g000087)"/>
<circle cx="522.1" cy="884.1" r="9.17" fill="url(#g000087)"/>
<circle cx="582.2" cy="929.3" r="9.17" fill="url(#g000087)"/>
<line x1="457.6" y1="565.4" x2="523.5" y2="565.4" stroke="#EA0000" stroke-width="3.31" stroke-linecap="round"/>
<circle cx="490.5" cy="565.4" r="9.07" fill="url(#gEA0000)"/>
<text transform="translate(530.80,575.60) scale(1,0.995)" font-size="29.45" text-anchor="start">0.1 ppm</text>
<line x1="457.6" y1="602.4" x2="523.5" y2="602.4" stroke="#33669F" stroke-width="3.31" stroke-linecap="round"/>
<circle cx="490.5" cy="602.4" r="9.07" fill="url(#g33669F)"/>
<text transform="translate(530.80,612.60) scale(1,0.995)" font-size="29.45" text-anchor="start">0.2 ppm</text>
<line x1="457.6" y1="639.4" x2="523.5" y2="639.4" stroke="#FFC815" stroke-width="3.31" stroke-linecap="round"/>
<circle cx="490.5" cy="639.4" r="9.07" fill="url(#gFFC815)"/>
<text transform="translate(530.80,649.60) scale(1,0.995)" font-size="29.45" text-anchor="start">0.4 ppm</text>
<line x1="457.6" y1="676.0" x2="523.5" y2="676.0" stroke="#04605C" stroke-width="3.31" stroke-linecap="round"/>
<circle cx="490.5" cy="676.0" r="9.07" fill="url(#g04605C)"/>
<text transform="translate(530.80,686.20) scale(1,0.995)" font-size="29.45" text-anchor="start">0.6 ppm</text>
<line x1="457.6" y1="713.3" x2="523.5" y2="713.3" stroke="#860000" stroke-width="3.31" stroke-linecap="round"/>
<circle cx="490.5" cy="713.3" r="9.07" fill="url(#g860000)"/>
<text transform="translate(530.80,723.50) scale(1,0.995)" font-size="29.45" text-anchor="start">0.8 ppm</text>
<line x1="457.6" y1="750.3" x2="523.5" y2="750.3" stroke="#000087" stroke-width="3.31" stroke-linecap="round"/>
<circle cx="490.5" cy="750.3" r="9.07" fill="url(#g000087)"/>
<text transform="translate(530.80,760.50) scale(1,0.995)" font-size="29.45" text-anchor="start">1 ppm</text>
<text transform="translate(137.72,608.19) scale(1,1.090)" font-size="34.71" text-anchor="start">X=3</text>
<text transform="translate(15.60,519.70) scale(1,0.982)" font-size="50.60" text-anchor="start" fill="#B80C0C">(d)</text>
<text transform="translate(398.30,1031.80)" font-size="29.84" text-anchor="middle">Temperature (°C)</text>
<text transform="translate(38.70,747.50) rotate(-90)" font-size="29.59" text-anchor="middle">Response (Rg/Ra)</text>
<rect x="740.80" y="540.10" width="554.00" height="424.10" fill="none" stroke="#000" stroke-width="3.30"/>
<path d="M740.80 964.20V975.60M863.91 964.20V975.60M987.02 964.20V975.60M1110.13 964.20V975.60M1233.24 964.20V975.60M802.36 964.20V970.00M925.47 964.20V970.00M1048.58 964.20V970.00M1171.69 964.20V970.00M1294.80 964.20V970.00M740.80 964.20H729.40M740.80 794.56H729.40M740.80 624.92H729.40M740.80 879.38H735.00M740.80 709.74H735.00M740.80 540.10H735.00" stroke="#000" stroke-width="3.30" fill="none"/>
<text transform="translate(740.80,1007.70) scale(1,1.090)" font-size="30.20" text-anchor="middle">40</text>
<text transform="translate(863.91,1007.70) scale(1,1.090)" font-size="30.20" text-anchor="middle">80</text>
<text transform="translate(987.02,1007.70) scale(1,1.090)" font-size="30.20" text-anchor="middle">120</text>
<text transform="translate(1110.13,1007.70) scale(1,1.090)" font-size="30.20" text-anchor="middle">160</text>
<text transform="translate(1233.24,1007.70) scale(1,1.090)" font-size="30.20" text-anchor="middle">200</text>
<text transform="translate(721.30,973.55) scale(1,1.090)" font-size="30.20" text-anchor="end">0</text>
<text transform="translate(721.30,803.91) scale(1,1.090)" font-size="30.20" text-anchor="end">10</text>
<text transform="translate(721.30,634.27) scale(1,1.090)" font-size="30.20" text-anchor="end">20</text>
<polyline points="802.4,944.9 833.1,942.9 863.9,932.8 894.7,924.0 925.5,917.5 956.2,910.7 987.0,903.8 1017.8,907.8 1048.6,913.9 1079.4,919.9 1110.1,927.6 1171.7,942.1 1233.2,943.7" fill="none" stroke="#EA0000" stroke-width="3.30" stroke-linejoin="round"/>
<circle cx="802.4" cy="944.9" r="9.40" fill="url(#gEA0000)"/>
<circle cx="833.1" cy="942.9" r="9.40" fill="url(#gEA0000)"/>
<circle cx="863.9" cy="932.8" r="9.40" fill="url(#gEA0000)"/>
<circle cx="894.7" cy="924.0" r="9.40" fill="url(#gEA0000)"/>
<circle cx="925.5" cy="917.5" r="9.40" fill="url(#gEA0000)"/>
<circle cx="956.2" cy="910.7" r="9.40" fill="url(#gEA0000)"/>
<circle cx="987.0" cy="903.8" r="9.40" fill="url(#gEA0000)"/>
<circle cx="1017.8" cy="907.8" r="9.40" fill="url(#gEA0000)"/>
<circle cx="1048.6" cy="913.9" r="9.40" fill="url(#gEA0000)"/>
<circle cx="1079.4" cy="919.9" r="9.40" fill="url(#gEA0000)"/>
<circle cx="1110.1" cy="927.6" r="9.40" fill="url(#gEA0000)"/>
<circle cx="1171.7" cy="942.1" r="9.40" fill="url(#gEA0000)"/>
<circle cx="1233.2" cy="943.7" r="9.40" fill="url(#gEA0000)"/>
<polyline points="802.4,944.1 833.1,940.9 863.9,926.0 894.7,903.8 925.5,890.5 956.2,876.4 987.0,861.5 1017.8,873.6 1048.6,882.5 1079.4,906.6 1110.1,916.7 1171.7,940.9 1233.2,942.9" fill="none" stroke="#33669F" stroke-width="3.30" stroke-linejoin="round"/>
<circle cx="802.4" cy="944.1" r="9.40" fill="url(#g33669F)"/>
<circle cx="833.1" cy="940.9" r="9.40" fill="url(#g33669F)"/>
<circle cx="863.9" cy="926.0" r="9.40" fill="url(#g33669F)"/>
<circle cx="894.7" cy="903.8" r="9.40" fill="url(#g33669F)"/>
<circle cx="925.5" cy="890.5" r="9.40" fill="url(#g33669F)"/>
<circle cx="956.2" cy="876.4" r="9.40" fill="url(#g33669F)"/>
<circle cx="987.0" cy="861.5" r="9.40" fill="url(#g33669F)"/>
<circle cx="1017.8" cy="873.6" r="9.40" fill="url(#g33669F)"/>
<circle cx="1048.6" cy="882.5" r="9.40" fill="url(#g33669F)"/>
<circle cx="1079.4" cy="906.6" r="9.40" fill="url(#g33669F)"/>
<circle cx="1110.1" cy="916.7" r="9.40" fill="url(#g33669F)"/>
<circle cx="1171.7" cy="940.9" r="9.40" fill="url(#g33669F)"/>
<circle cx="1233.2" cy="942.9" r="9.40" fill="url(#g33669F)"/>
<polyline points="802.4,943.7 833.1,936.9 863.9,914.7 894.7,884.5 925.5,873.2 956.2,847.0 987.0,826.9 1017.8,841.0 1048.6,865.5 1079.4,892.5 1110.1,907.4 1171.7,938.9 1233.2,942.1" fill="none" stroke="#FFC815" stroke-width="3.30" stroke-linejoin="round"/>
<circle cx="802.4" cy="943.7" r="9.40" fill="url(#gFFC815)"/>
<circle cx="833.1" cy="936.9" r="9.40" fill="url(#gFFC815)"/>
<circle cx="863.9" cy="914.7" r="9.40" fill="url(#gFFC815)"/>
<circle cx="894.7" cy="884.5" r="9.40" fill="url(#gFFC815)"/>
<circle cx="925.5" cy="873.2" r="9.40" fill="url(#gFFC815)"/>
<circle cx="956.2" cy="847.0" r="9.40" fill="url(#gFFC815)"/>
<circle cx="987.0" cy="826.9" r="9.40" fill="url(#gFFC815)"/>
<circle cx="1017.8" cy="841.0" r="9.40" fill="url(#gFFC815)"/>
<circle cx="1048.6" cy="865.5" r="9.40" fill="url(#gFFC815)"/>
<circle cx="1079.4" cy="892.5" r="9.40" fill="url(#gFFC815)"/>
<circle cx="1110.1" cy="907.4" r="9.40" fill="url(#gFFC815)"/>
<circle cx="1171.7" cy="938.9" r="9.40" fill="url(#gFFC815)"/>
<circle cx="1233.2" cy="942.1" r="9.40" fill="url(#gFFC815)"/>
<polyline points="802.4,942.9 833.1,930.0 863.9,898.6 894.7,864.3 925.5,828.1 956.2,785.8 987.0,756.4 1017.8,767.6 1048.6,799.9 1079.4,848.2 1110.1,890.5 1171.7,928.8 1233.2,940.9" fill="none" stroke="#04605C" stroke-width="3.30" stroke-linejoin="round"/>
<circle cx="802.4" cy="942.9" r="9.40" fill="url(#g04605C)"/>
<circle cx="833.1" cy="930.0" r="9.40" fill="url(#g04605C)"/>
<circle cx="863.9" cy="898.6" r="9.40" fill="url(#g04605C)"/>
<circle cx="894.7" cy="864.3" r="9.40" fill="url(#g04605C)"/>
<circle cx="925.5" cy="828.1" r="9.40" fill="url(#g04605C)"/>
<circle cx="956.2" cy="785.8" r="9.40" fill="url(#g04605C)"/>
<circle cx="987.0" cy="756.4" r="9.40" fill="url(#g04605C)"/>
<circle cx="1017.8" cy="767.6" r="9.40" fill="url(#g04605C)"/>
<circle cx="1048.6" cy="799.9" r="9.40" fill="url(#g04605C)"/>
<circle cx="1079.4" cy="848.2" r="9.40" fill="url(#g04605C)"/>
<circle cx="1110.1" cy="890.5" r="9.40" fill="url(#g04605C)"/>
<circle cx="1171.7" cy="928.8" r="9.40" fill="url(#g04605C)"/>
<circle cx="1233.2" cy="940.9" r="9.40" fill="url(#g04605C)"/>
<polyline points="802.4,941.7 833.1,915.9 863.9,864.3 894.7,805.9 925.5,744.7 956.2,697.9 987.0,658.9 1017.8,683.0 1048.6,695.1 1079.4,768.4 1110.1,825.3 1171.7,916.7 1233.2,939.7" fill="none" stroke="#860000" stroke-width="3.30" stroke-linejoin="round"/>
<circle cx="802.4" cy="941.7" r="9.40" fill="url(#g860000)"/>
<circle cx="833.1" cy="915.9" r="9.40" fill="url(#g860000)"/>
<circle cx="863.9" cy="864.3" r="9.40" fill="url(#g860000)"/>
<circle cx="894.7" cy="805.9" r="9.40" fill="url(#g860000)"/>
<circle cx="925.5" cy="744.7" r="9.40" fill="url(#g860000)"/>
<circle cx="956.2" cy="697.9" r="9.40" fill="url(#g860000)"/>
<circle cx="987.0" cy="658.9" r="9.40" fill="url(#g860000)"/>
<circle cx="1017.8" cy="683.0" r="9.40" fill="url(#g860000)"/>
<circle cx="1048.6" cy="695.1" r="9.40" fill="url(#g860000)"/>
<circle cx="1079.4" cy="768.4" r="9.40" fill="url(#g860000)"/>
<circle cx="1110.1" cy="825.3" r="9.40" fill="url(#g860000)"/>
<circle cx="1171.7" cy="916.7" r="9.40" fill="url(#g860000)"/>
<circle cx="1233.2" cy="939.7" r="9.40" fill="url(#g860000)"/>
<polyline points="802.4,940.1 833.1,896.6 863.9,835.3 894.7,768.8 925.5,695.9 956.2,625.4 987.0,569.4 1017.8,603.3 1048.6,659.7 1079.4,728.2 1110.1,801.9 1171.7,906.6 1233.2,936.9" fill="none" stroke="#000087" stroke-width="3.30" stroke-linejoin="round"/>
<circle cx="802.4" cy="940.1" r="9.40" fill="url(#g000087)"/>
<circle cx="833.1" cy="896.6" r="9.40" fill="url(#g000087)"/>
<circle cx="863.9" cy="835.3" r="9.40" fill="url(#g000087)"/>
<circle cx="894.7" cy="768.8" r="9.40" fill="url(#g000087)"/>
<circle cx="925.5" cy="695.9" r="9.40" fill="url(#g000087)"/>
<circle cx="956.2" cy="625.4" r="9.40" fill="url(#g000087)"/>
<circle cx="987.0" cy="569.4" r="9.40" fill="url(#g000087)"/>
<circle cx="1017.8" cy="603.3" r="9.40" fill="url(#g000087)"/>
<circle cx="1048.6" cy="659.7" r="9.40" fill="url(#g000087)"/>
<circle cx="1079.4" cy="728.2" r="9.40" fill="url(#g000087)"/>
<circle cx="1110.1" cy="801.9" r="9.40" fill="url(#g000087)"/>
<circle cx="1171.7" cy="906.6" r="9.40" fill="url(#g000087)"/>
<circle cx="1233.2" cy="936.9" r="9.40" fill="url(#g000087)"/>
<line x1="1105.6" y1="562.9" x2="1173.4" y2="562.9" stroke="#EA0000" stroke-width="3.40" stroke-linecap="round"/>
<circle cx="1139.3" cy="562.9" r="9.30" fill="url(#gEA0000)"/>
<text transform="translate(1180.60,572.90) scale(1,1.040)" font-size="30.20" text-anchor="start">0.1 ppm</text>
<line x1="1105.6" y1="601.0" x2="1173.4" y2="601.0" stroke="#33669F" stroke-width="3.40" stroke-linecap="round"/>
<circle cx="1139.3" cy="601.0" r="9.30" fill="url(#g33669F)"/>
<text transform="translate(1180.60,611.00) scale(1,1.040)" font-size="30.20" text-anchor="start">0.2 ppm</text>
<line x1="1105.6" y1="639.0" x2="1173.4" y2="639.0" stroke="#FFC815" stroke-width="3.40" stroke-linecap="round"/>
<circle cx="1139.3" cy="639.0" r="9.30" fill="url(#gFFC815)"/>
<text transform="translate(1180.60,649.00) scale(1,1.040)" font-size="30.20" text-anchor="start">0.4 ppm</text>
<line x1="1105.6" y1="677.0" x2="1173.4" y2="677.0" stroke="#04605C" stroke-width="3.40" stroke-linecap="round"/>
<circle cx="1139.3" cy="677.0" r="9.30" fill="url(#g04605C)"/>
<text transform="translate(1180.60,687.00) scale(1,1.040)" font-size="30.20" text-anchor="start">0.6 ppm</text>
<line x1="1105.6" y1="715.2" x2="1173.4" y2="715.2" stroke="#860000" stroke-width="3.40" stroke-linecap="round"/>
<circle cx="1139.3" cy="715.2" r="9.30" fill="url(#g860000)"/>
<text transform="translate(1180.60,725.20) scale(1,1.040)" font-size="30.20" text-anchor="start">0.8 ppm</text>
<line x1="1105.6" y1="753.3" x2="1173.4" y2="753.3" stroke="#000087" stroke-width="3.40" stroke-linecap="round"/>
<circle cx="1139.3" cy="753.3" r="9.30" fill="url(#g000087)"/>
<text transform="translate(1180.60,763.30) scale(1,1.040)" font-size="30.20" text-anchor="start">1 ppm</text>
<text transform="translate(776.90,610.60) scale(1,1.090)" font-size="35.60" text-anchor="start">X=5</text>
<text transform="translate(676.10,530.80) scale(1,0.982)" font-size="50.60" text-anchor="start" fill="#B80C0C">(e)</text>
<text transform="translate(1044.90,1040.80)" font-size="30.60" text-anchor="middle">Temperature (°C)</text>
<text transform="translate(675.60,749.35) rotate(-90)" font-size="30.35" text-anchor="middle">Response (Rg/Ra)</text>
<rect x="1408.90" y="544.10" width="540.50" height="414.10" fill="none" stroke="#000" stroke-width="3.22"/>
<path d="M1437.35 958.20V969.32M1551.14 958.20V969.32M1664.93 958.20V969.32M1778.72 958.20V969.32M1892.51 958.20V969.32M1494.24 958.20V963.86M1608.03 958.20V963.86M1721.82 958.20V963.86M1835.61 958.20V963.86M1949.40 958.20V963.86M1408.90 958.20H1397.79M1408.90 866.18H1397.79M1408.90 774.16H1397.79M1408.90 682.13H1397.79M1408.90 590.11H1397.79M1408.90 912.19H1403.25M1408.90 820.17H1403.25M1408.90 728.14H1403.25M1408.90 636.12H1403.25M1408.90 544.10H1403.25" stroke="#000" stroke-width="3.22" fill="none"/>
<text transform="translate(1437.35,1000.61) scale(1,1.090)" font-size="29.45" text-anchor="middle">0</text>
<text transform="translate(1551.14,1000.61) scale(1,1.090)" font-size="29.45" text-anchor="middle">2</text>
<text transform="translate(1664.93,1000.61) scale(1,1.090)" font-size="29.45" text-anchor="middle">4</text>
<text transform="translate(1778.72,1000.61) scale(1,1.090)" font-size="29.45" text-anchor="middle">6</text>
<text transform="translate(1892.51,1000.61) scale(1,1.090)" font-size="29.45" text-anchor="middle">8</text>
<text transform="translate(1389.91,967.29) scale(1,1.090)" font-size="29.45" text-anchor="end">0</text>
<text transform="translate(1389.91,875.27) scale(1,1.090)" font-size="29.45" text-anchor="end">50</text>
<text transform="translate(1389.91,783.25) scale(1,1.090)" font-size="29.45" text-anchor="end">100</text>
<text transform="translate(1389.91,691.22) scale(1,1.090)" font-size="29.45" text-anchor="end">150</text>
<text transform="translate(1389.91,599.20) scale(1,1.090)" font-size="29.45" text-anchor="end">200</text>
<circle cx="1465.8" cy="951.3" r="9.00" fill="url(#gEA0000)"/>
<circle cx="1494.2" cy="942.3" r="9.00" fill="url(#gEA0000)"/>
<circle cx="1551.1" cy="930.4" r="9.00" fill="url(#gEA0000)"/>
<circle cx="1664.9" cy="910.7" r="9.00" fill="url(#gEA0000)"/>
<circle cx="1778.7" cy="887.1" r="9.00" fill="url(#gEA0000)"/>
<circle cx="1892.5" cy="866.2" r="9.00" fill="url(#gEA0000)"/>
<circle cx="1465.8" cy="943.1" r="9.00" fill="url(#g33669F)"/>
<circle cx="1494.2" cy="925.7" r="9.00" fill="url(#g33669F)"/>
<circle cx="1551.1" cy="902.0" r="9.00" fill="url(#g33669F)"/>
<circle cx="1664.9" cy="849.6" r="9.00" fill="url(#g33669F)"/>
<circle cx="1778.7" cy="816.9" r="9.00" fill="url(#g33669F)"/>
<circle cx="1892.5" cy="776.6" r="9.00" fill="url(#g33669F)"/>
<circle cx="1465.8" cy="921.8" r="9.00" fill="url(#g860000)"/>
<circle cx="1494.2" cy="891.0" r="9.00" fill="url(#g860000)"/>
<circle cx="1551.1" cy="831.9" r="9.00" fill="url(#g860000)"/>
<circle cx="1664.9" cy="738.0" r="9.00" fill="url(#g860000)"/>
<circle cx="1778.7" cy="667.0" r="9.00" fill="url(#g860000)"/>
<circle cx="1892.5" cy="578.3" r="9.00" fill="url(#g860000)"/>
<circle cx="1465.8" cy="938.3" r="9.00" fill="url(#g000087)"/>
<circle cx="1494.2" cy="914.7" r="9.00" fill="url(#g000087)"/>
<circle cx="1551.1" cy="883.1" r="9.00" fill="url(#g000087)"/>
<circle cx="1664.9" cy="819.2" r="9.00" fill="url(#g000087)"/>
<circle cx="1778.7" cy="766.8" r="9.00" fill="url(#g000087)"/>
<circle cx="1892.5" cy="706.9" r="9.00" fill="url(#g000087)"/>
<line x1="1465.8" y1="949.4" x2="1892.5" y2="866.3" stroke="#EA0000" stroke-width="3.2"/>
<line x1="1465.8" y1="936.5" x2="1892.5" y2="773.2" stroke="#33669F" stroke-width="3.2"/>
<line x1="1465.8" y1="910.7" x2="1892.5" y2="572.6" stroke="#860000" stroke-width="3.2"/>
<line x1="1465.8" y1="932.4" x2="1892.5" y2="704.7" stroke="#000087" stroke-width="3.2"/>
<circle cx="1436.6" cy="571.6" r="9.00" fill="url(#gEA0000)"/>
<text transform="translate(1477.40,581.20) scale(1,1.100)" font-size="29.10" text-anchor="start">X=0</text>
<circle cx="1436.6" cy="607.9" r="9.00" fill="url(#g33669F)"/>
<text transform="translate(1477.40,617.50) scale(1,1.100)" font-size="29.10" text-anchor="start">X=1</text>
<circle cx="1436.6" cy="645.3" r="9.00" fill="url(#g860000)"/>
<text transform="translate(1477.40,654.90) scale(1,1.100)" font-size="29.10" text-anchor="start">X=3</text>
<circle cx="1436.6" cy="682.0" r="9.00" fill="url(#g000087)"/>
<text transform="translate(1477.40,691.60) scale(1,1.100)" font-size="29.10" text-anchor="start">X=5</text>
<text transform="translate(1558.20,622.00)" font-size="29.50" text-anchor="start" fill="#860000" font-style="italic">Y = 24.49X+13.57</text>
<text transform="translate(1427.70,767.70)" font-size="29.50" text-anchor="start" fill="#000087" font-style="italic">Y =16.50X+5.75</text>
<text transform="translate(1741.20,853.80)" font-size="29.50" text-anchor="start" fill="#33669F" font-style="italic">Y = 11.83X+5.86</text>
<text transform="translate(1745.10,935.70)" font-size="29.50" text-anchor="start" fill="#F50000" font-style="italic">Y = 6.02X+1.77</text>
<line x1="1708.5" y1="637.1" x2="1725.9" y2="680.0" stroke="#860000" stroke-width="1.8"/>
<polygon points="1731.1,692.8 1720.6,680.9 1725.9,680.0 1730.3,676.9" fill="#860000"/>
<line x1="1574.6" y1="779.8" x2="1610.3" y2="833.0" stroke="#000087" stroke-width="1.8"/>
<polygon points="1618,844.5 1605.3,834.9 1610.3,833.0 1614.0,829.1" fill="#000087"/>
<text transform="translate(1341.60,530.80) scale(1,0.982)" font-size="50.60" text-anchor="start" fill="#B80C0C">(f)</text>
<text transform="translate(1707.90,1032.60)" font-size="29.56" text-anchor="middle">Con (ppm)</text>
<text transform="translate(1329.60,768.40) rotate(-90)" font-size="29.59" text-anchor="middle">Response (Rg/Ra)</text>
</svg>
</body></html>
